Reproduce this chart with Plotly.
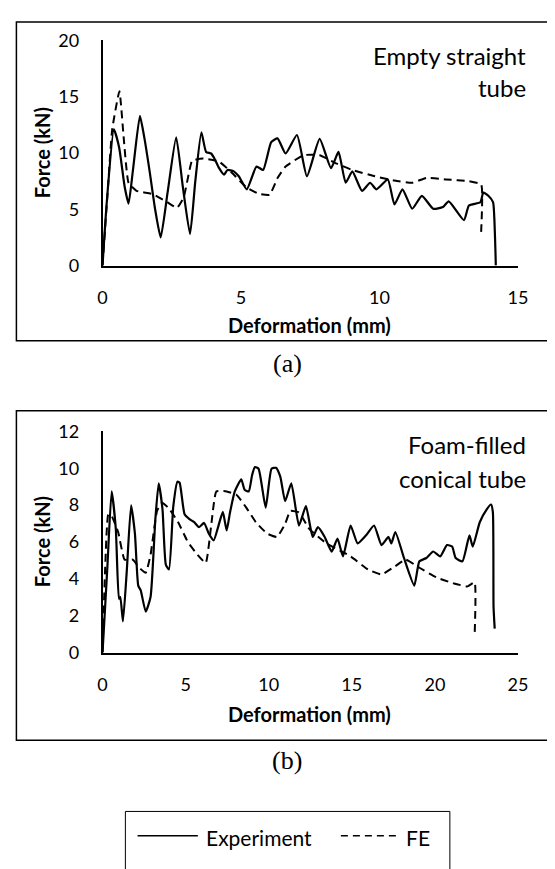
import plotly.graph_objects as go

W, H = 555, 869
OFF = 8  # default page body margin shifts the figure; positions below are page pixels

# ---------------- data: (a) Empty straight tube ----------------
a_exp_x = [0.0, 0.15, 0.41, 0.6, 0.8, 0.94, 1.1, 1.35, 1.5, 1.7, 1.9, 2.1, 2.35, 2.66, 2.9, 3.16, 3.35, 3.57,
           3.74, 3.92, 4.04, 4.21, 4.39, 4.51, 4.74, 4.92, 5.21, 5.56, 5.8, 6.09, 6.32, 6.61, 7.02, 7.38,
           7.84, 8.25, 8.52, 8.78, 9.02, 9.37, 9.66, 9.89, 10.3, 10.54, 10.83, 11.18, 11.53, 11.94, 12.29,
           12.5, 13.05, 13.23, 13.64, 13.75, 13.93, 14.1, 14.15, 14.19, 14.2]
a_exp_y = [0.0, 5.5, 12.1, 10.5, 7.0, 5.5, 8.5, 13.3, 11.5, 8.4, 5.0, 2.5, 6.5, 11.4, 7.0, 2.8, 7.5, 11.83,
           10.1, 9.96, 9.52, 8.66, 8.08, 8.5, 8.37, 7.94, 6.78, 8.8, 8.5, 10.97, 11.3, 9.96, 11.6, 7.94,
           11.26, 8.66, 10.1, 7.36, 8.37, 6.64, 7.36, 6.78, 7.65, 5.43, 6.78, 5.05, 6.2, 5.05, 5.2,
           5.71, 4.04, 5.34, 5.63, 6.49, 6.2, 5.63, 4.0, 1.0, 0.0]

a_fe_x = [0.0, 0.18, 0.35, 0.61, 0.76, 0.94, 1.23, 1.81, 2.34, 2.69, 2.93, 3.22, 3.34, 3.63, 4.21, 4.68,
          5.21, 5.62, 6.03, 6.32, 6.61, 7.26, 7.84, 8.43, 9.01, 9.83, 10.54, 11.18, 11.7, 12.41, 13.23,
          13.67, 13.67]
a_fe_y = [0.0, 6.35, 12.1, 15.5, 11.5, 7.36, 6.64, 6.35, 5.63, 5.14, 6.06, 9.24, 9.4, 9.52, 9.24, 8.23,
          6.93, 6.4, 6.29, 7.79, 8.8, 9.81, 9.81, 9.09, 8.5, 7.94, 7.56, 7.36, 7.79, 7.65, 7.5,
          7.2, 3.0]

# ---------------- data: (b) Foam-filled conical tube ----------------
b_exp_x = [0.0, 0.02, 0.29, 0.55, 0.8, 0.99, 1.07, 1.23, 1.46, 1.72, 1.95, 2.15, 2.3, 2.6, 2.89, 3.18,
           3.38, 3.61, 3.81, 4.0, 4.26, 4.51, 4.64, 4.94, 5.23, 5.52, 5.81, 6.11, 6.4, 6.69, 6.98, 7.24,
           7.47, 7.67, 7.96, 8.35, 8.55, 8.8, 9.0, 9.17, 9.39, 9.82, 10.17, 10.44, 10.7, 10.99,
           11.36, 11.82, 12.24, 12.65, 12.96, 13.37, 13.79, 14.14, 14.47,
           14.93, 15.35, 15.86, 16.34, 16.79, 17.21, 17.38, 17.62, 18.14, 18.76, 19.07, 19.49, 19.9,
           20.32, 20.73, 21.04, 21.25, 21.66, 22.08, 22.28, 22.7, 23.12, 23.38, 23.49, 23.53, 23.6]
b_exp_y = [0.0, 0.3, 4.6, 8.74, 6.71, 2.92, 3.01, 1.69, 4.42, 7.98, 6.45, 3.63, 3.37, 2.22, 3.01, 7.24,
           9.18, 7.77, 4.77, 4.51, 7.94, 9.27, 9.21, 7.5, 7.24, 7.07, 6.8, 7.03, 6.45, 6.09, 6.89, 7.63,
           6.62, 7.59, 8.74, 9.39, 8.83, 8.74, 9.62, 10.06, 9.97, 7.86, 9.97, 10.02, 9.53, 8.21,
           9.18, 6.89, 7.94, 6.27, 6.8, 6.27, 5.48, 6.18, 5.22,
           6.89, 5.92, 6.36, 6.89, 5.83, 6.27, 5.92, 6.54, 5.13, 3.63, 4.95, 5.13, 5.48,
           5.22, 5.83, 5.75, 5.13, 4.95, 6.36, 5.75, 7.07, 7.77, 8.03, 7.6, 2.48, 1.3]

b_fe_x = [0.0, 0.16, 0.35, 0.55, 0.94, 1.33, 1.82, 2.21, 2.6, 2.89, 3.28, 3.57, 3.96, 4.55, 5.13, 5.72,
          6.21, 6.54, 6.85, 7.47, 8.06, 8.65, 9.23, 9.91, 10.5, 10.99, 11.3, 11.82, 12.44, 13.48,
          14.93, 15.97, 16.79, 17.62, 18.24, 19.07, 20.11, 21.15, 21.97, 22.39, 22.39]
b_fe_y = [0.0, 4.6, 7.5, 7.4, 6.54, 5.04, 5.04, 4.6, 4.33, 5.3, 7.68, 8.12, 7.86, 7.07, 6.01, 5.3,
          4.86, 6.89, 8.74, 8.74, 8.56, 7.86, 7.07, 6.45, 6.27, 6.98, 7.68, 7.6, 6.71, 5.92,
          5.22, 4.51, 4.24, 4.69, 5.04, 4.6, 4.07, 3.75, 3.59, 3.81, 0.9]

a_xticks = [0, 5, 10, 15]
a_yticks = [0, 5, 10, 15, 20]
b_xticks = [0, 5, 10, 15, 20, 25]
b_yticks = [0, 2, 4, 6, 8, 10, 12]

series_names = ["Experiment", "FE"]
panel_titles = [["Empty straight", "tube"], ["Foam-filled", "conical tube"]]
panel_labels = ["(a)", "(b)"]

FONT = "Lato"
SERIF = "Liberation Serif"


def px(x):
    return (x - OFF) / W


def py(y):
    return 1 - (y - OFF) / H


exp_line = dict(color="black", width=2.2, shape="spline", smoothing=0.5)
fe_line = dict(color="black", width=2, dash="8px,5px", shape="spline", smoothing=0.4)

fig = go.Figure()
fig.add_trace(go.Scatter(x=a_exp_x, y=a_exp_y, mode="lines", line=exp_line, name=series_names[0],
                         xaxis="x", yaxis="y", showlegend=False))
fig.add_trace(go.Scatter(x=a_fe_x, y=a_fe_y, mode="lines", line=fe_line, name=series_names[1],
                         xaxis="x", yaxis="y", showlegend=False))
fig.add_trace(go.Scatter(x=b_exp_x, y=b_exp_y, mode="lines", line=exp_line, name=series_names[0],
                         xaxis="x2", yaxis="y2", showlegend=False))
fig.add_trace(go.Scatter(x=b_fe_x, y=b_fe_y, mode="lines", line=fe_line, name=series_names[1],
                         xaxis="x2", yaxis="y2", showlegend=False))

xdom = [px(100), px(527)]
ax_common = dict(showline=True, linecolor="black", linewidth=1.5, showgrid=False, zeroline=False,
                 ticks="outside", tickcolor="rgba(0,0,0,0)",
                 tickfont=dict(family=FONT, size=18, color="black"))

fig.update_layout(
    width=W, height=H,
    margin=dict(l=0, r=0, t=0, b=0),
    paper_bgcolor="white", plot_bgcolor="white",
    xaxis=dict(domain=xdom, range=[0, 15], tickvals=a_xticks, ticklen=15, anchor="y", **ax_common),
    yaxis=dict(domain=[py(260), py(29)], range=[0, 20], tickvals=a_yticks, ticklen=18, anchor="x",
               **ax_common),
    xaxis2=dict(domain=xdom, range=[0, 25], tickvals=b_xticks, ticklen=15, anchor="y2", **ax_common),
    yaxis2=dict(domain=[py(657), py(430)], range=[0, 12], tickvals=b_yticks, ticklen=18, anchor="x2",
                **ax_common),
)

shapes = []
# panel frames
for top, bot in [(10, 337), (409, 747)]:
    shapes.append(dict(type="rect", xref="paper", yref="paper", x0=px(11.5), x1=px(590),
                       y0=py(bot), y1=py(top), line=dict(color="black", width=1.5)))
# legend frame
shapes.append(dict(type="rect", xref="paper", yref="paper", x0=px(123.5), x1=px(457),
                   y0=py(900), y1=py(820), line=dict(color="black", width=1)))
# legend samples
shapes.append(dict(type="line", xref="paper", yref="paper", x0=px(136), x1=px(198),
                   y0=py(845), y1=py(845), line=dict(color="black", width=1.5)))
shapes.append(dict(type="line", xref="paper", yref="paper", x0=px(345), x1=px(403),
                   y0=py(845), y1=py(845), line=dict(color="black", width=1.5, dash="7px,5px")))
fig.update_layout(shapes=shapes)

ann = []
# axis titles
for yc in [321, 720]:
    ann.append(dict(text="<b>Deformation (mm)</b>", x=px(313), y=py(yc), xref="paper", yref="paper",
                    showarrow=False, font=dict(family=FONT, size=20, color="black"),
                    xanchor="center", yanchor="middle"))
for yc in [144.5, 543.5]:
    ann.append(dict(text="<b>Force (kN)</b>", x=px(38), y=py(yc), xref="paper", yref="paper",
                    showarrow=False, textangle=-90, font=dict(family=FONT, size=20, color="black"),
                    xanchor="center", yanchor="middle"))
# panel titles inside plots
for (l1, l2), (y1, y2) in zip(panel_titles, [(44, 77), (444, 478)]):
    for t, yy in [(l1, y1), (l2, y2)]:
        ann.append(dict(text=t, x=px(537), y=py(yy), xref="paper", yref="paper", showarrow=False,
                        font=dict(family=FONT, size=24, color="black"),
                        xanchor="right", yanchor="middle"))
# panel labels
for lab, yy in zip(panel_labels, [360, 768]):
    ann.append(dict(text=lab, x=px(290), y=py(yy), xref="paper", yref="paper", showarrow=False,
                    font=dict(family=SERIF, size=26, color="black"), xanchor="center", yanchor="middle"))
# legend texts
ann.append(dict(text=series_names[0], x=px(204), y=py(847), xref="paper", yref="paper", showarrow=False,
                font=dict(family=FONT, size=21, color="black"), xanchor="left", yanchor="middle"))
ann.append(dict(text=series_names[1], x=px(410), y=py(847), xref="paper", yref="paper", showarrow=False,
                font=dict(family=FONT, size=21, color="black"), xanchor="left", yanchor="middle"))
fig.update_layout(annotations=ann)

fig.write_html("out.html")
